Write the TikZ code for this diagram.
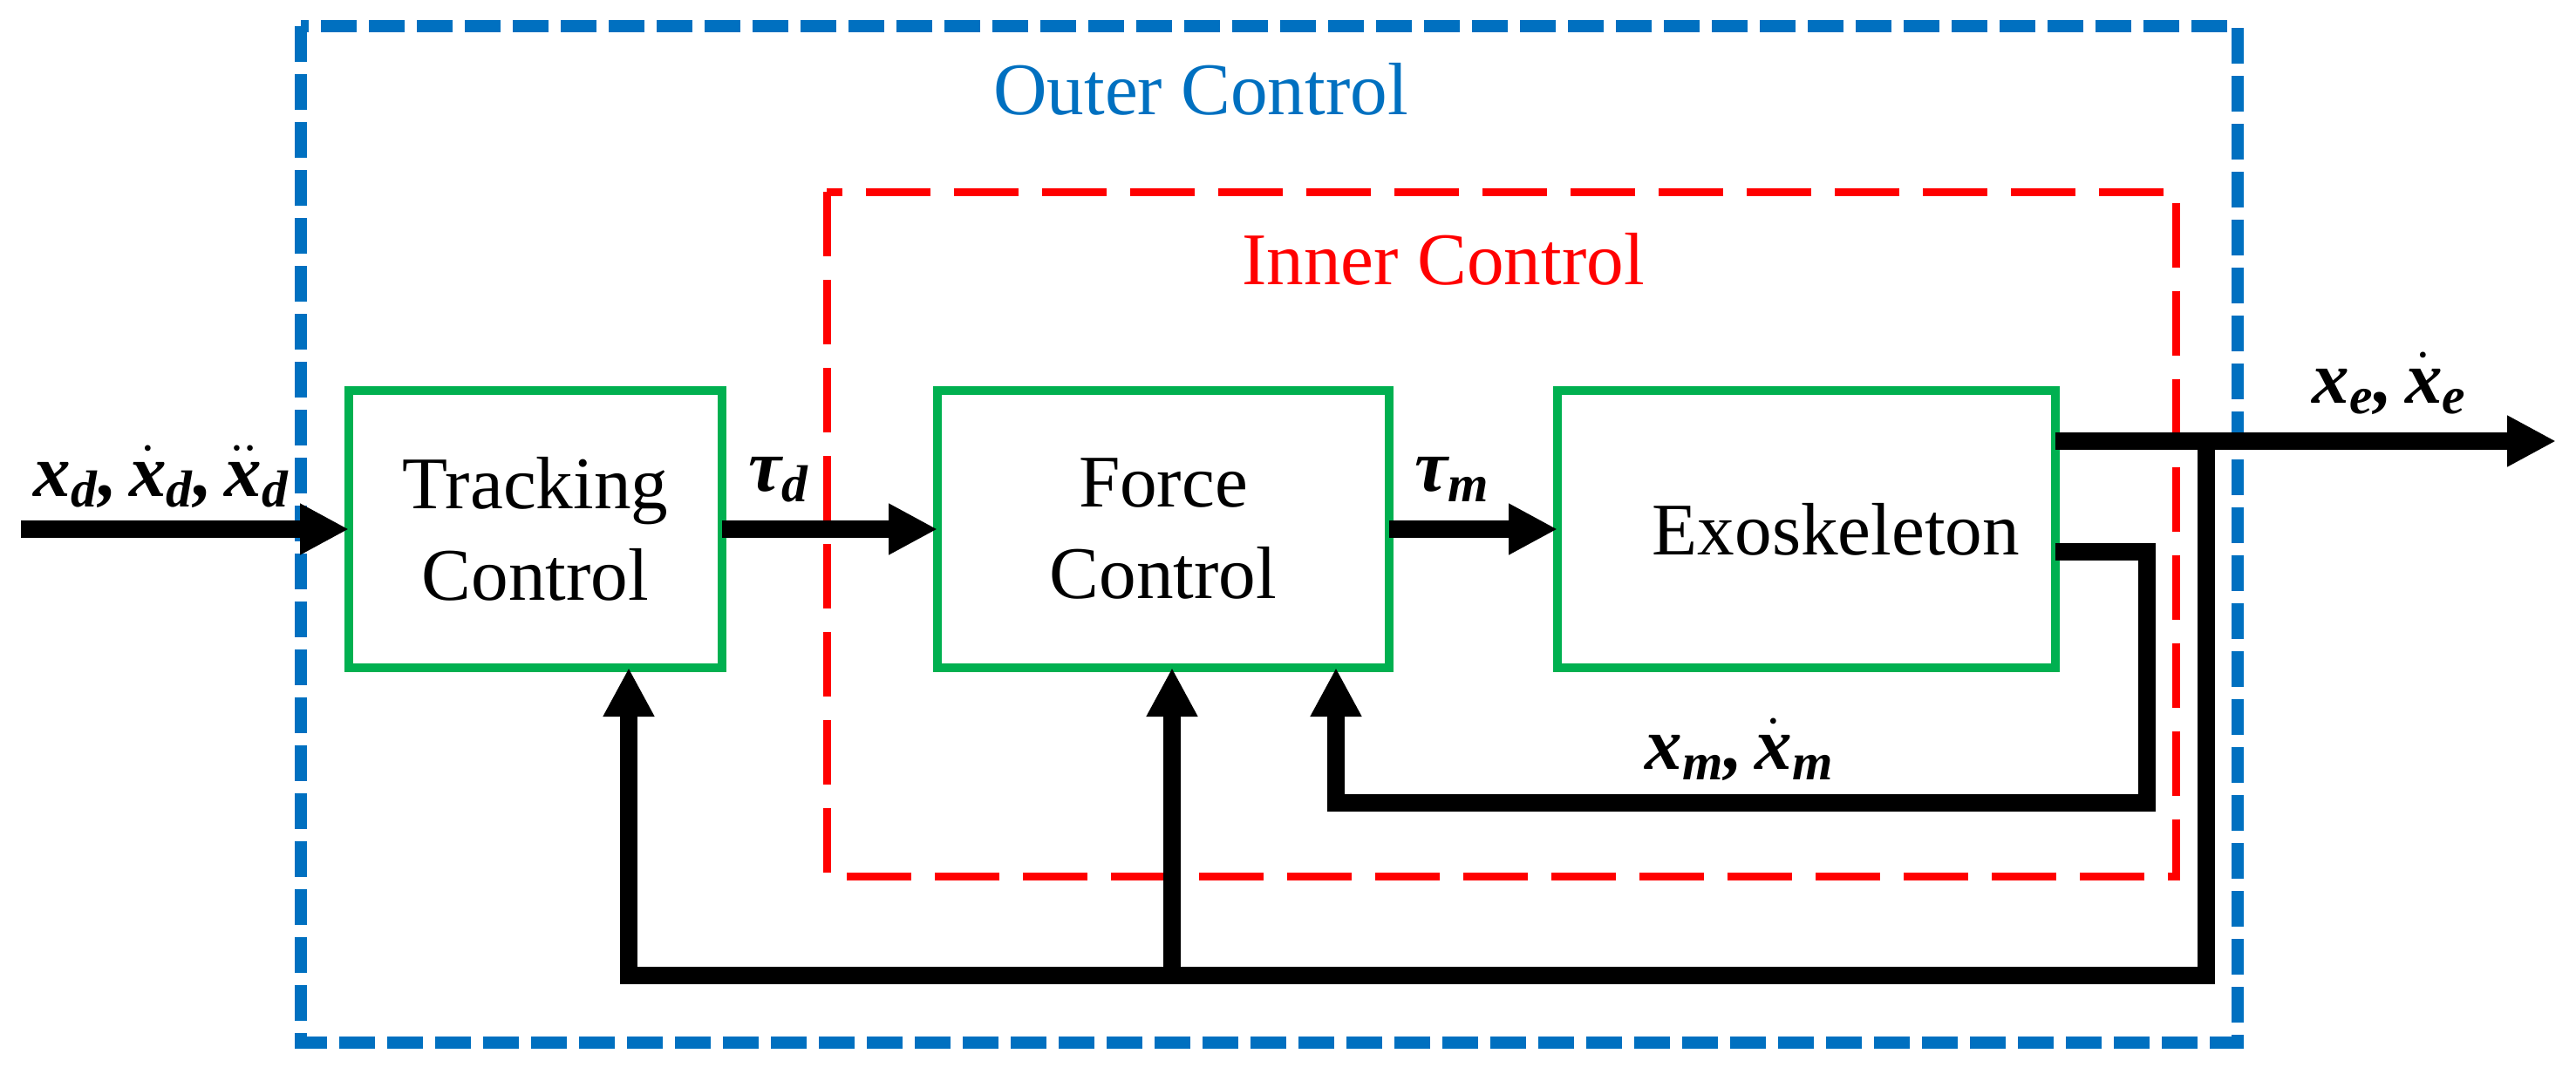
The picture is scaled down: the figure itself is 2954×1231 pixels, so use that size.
\documentclass[tikz,border=0pt]{standalone}
\usepackage{amsmath}
\usepackage{fontspec}
\setmainfont{Liberation Serif}
\usetikzlibrary{arrows.meta}
\definecolor{outerblue}{HTML}{0070C0}
\definecolor{innerred}{HTML}{FF0000}
\definecolor{boxgreen}{HTML}{00B050}
\newcommand{\bfi}[1]{\text{\bfseries\itshape #1}}
\begin{document}
\begin{tikzpicture}[x=0.25pt,y=-0.25pt,
  blk/.style={draw=boxgreen, line width=2.4pt, minimum height=79.5pt, inner sep=0pt, outer sep=0pt,
    font=\fontsize{21.3pt}{26.25pt}\selectfont, align=center},
  sig/.style={line width=5pt, -{Triangle[length=14pt,width=13.75pt]}},
  lbl/.style={font=\fontsize{21.3pt}{26.25pt}\selectfont, inner sep=0pt, anchor=base west},
  outerbox/.style={draw=outerblue, line width=3.6pt, dash pattern=on 10.25pt off 3.5pt},
  innerbox/.style={draw=innerred, line width=2.25pt, dash pattern=on 18.5pt off 6.75pt}]
\useasboundingbox (0,0) rectangle (2954,1231);
% containers
\draw[outerbox] (345,30) rectangle (2566,1196);
\draw[innerbox] (948,220) rectangle (2495,1005);
\node[lbl, text=outerblue, anchor=base] (outerlbl) at (1377,131) {Outer Control};
\node[lbl, text=innerred, anchor=base] (innerlbl) at (1655,326) {Inner Control};
% blocks
\node[blk, minimum width=107pt] (track) at (614,607) {Tracking\\Control};
\node[blk, minimum width=129.5pt] (force) at (1334,607) {Force\\Control};
\node[blk, minimum width=142.75pt] (exo) at (2071.5,607) {\hspace*{17pt}Exoskeleton};
% coordinates
\coordinate (in) at (24,607);
\coordinate (out) at (2931,506);
\coordinate (br) at (2530,506);
\coordinate (fbR) at (2530,1119);
\coordinate (jF) at (1344,1119);
\coordinate (ic) at (2462,921);
% connectors
\draw[sig] (in) -- (track.west);
\draw[sig] (track.east) -- (force.west);
\draw[sig] (force.east) -- (exo.west);
\draw[sig] ([yshift=25.25pt]exo.east) -- (out);
\draw[sig] (br) -- (fbR) -| ([xshift=26.75pt]track.south);
\draw[sig] (jF) -- ([xshift=2.5pt]force.south);
\draw[sig] ([yshift=-6.5pt]exo.east) -| (ic) -| ([xshift=49.5pt]force.south);
% signal labels
\node[lbl] (lin) at (38,569) {$\bfi{x}_{\bfi{d}}\bfi{,}\,\dot{\bfi{x}}_{\bfi{d}}\bfi{,}\,\ddot{\bfi{x}}_{\bfi{d}}$};
\node[lbl] (ltd) at (858,563) {$\bfi{τ}_{\bfi{d}}$};
\node[lbl] (ltm) at (1622,563) {$\bfi{τ}_{\bfi{m}}$};
\node[lbl] (lxe) at (2651,462) {$\bfi{x}_{\bfi{e}}\bfi{,}\,\dot{\bfi{x}}_{\bfi{e}}$};
\node[lbl] (lxm) at (1886,882) {$\bfi{x}_{\bfi{m}}\bfi{,}\,\dot{\bfi{x}}_{\bfi{m}}$};
\end{tikzpicture}
\end{document}
